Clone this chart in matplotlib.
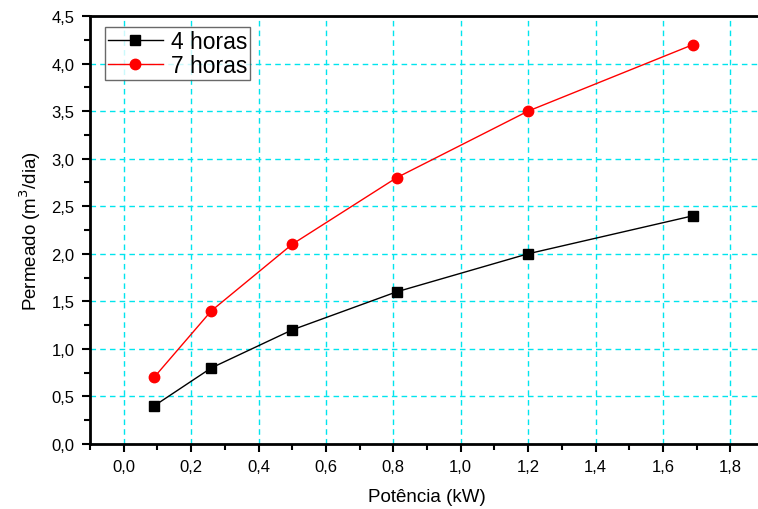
import matplotlib
matplotlib.use("Agg")
import matplotlib.pyplot as plt
from matplotlib.ticker import MultipleLocator, FuncFormatter

# data
potencia = [0.09, 0.26, 0.50, 0.81, 1.20, 1.69]
horas_4 = [0.4, 0.8, 1.2, 1.6, 2.0, 2.4]
horas_7 = [0.7, 1.4, 2.1, 2.8, 3.5, 4.2]

plt.rcParams['font.family'] = ['Liberation Sans', 'DejaVu Sans']

fig = plt.figure(figsize=(7.58, 5.10), dpi=100)
# right edge of the axes falls just outside the picture, as in the original
ax = fig.add_axes([90 / 758, (510 - 445) / 510, (764 - 90) / 758, (445 - 17) / 510])

ax.plot(potencia, horas_4, color='black', lw=1, marker='s', ms=6.5, label='4 horas')
ax.plot(potencia, horas_7, color='red', lw=1, marker='o', ms=7.5, label='7 horas')

ax.set_xlim(-0.1, 1.9)
ax.set_ylim(0, 4.5)
ax.xaxis.set_major_locator(MultipleLocator(0.2))
ax.xaxis.set_minor_locator(MultipleLocator(0.1))
ax.yaxis.set_major_locator(MultipleLocator(0.5))
ax.yaxis.set_minor_locator(MultipleLocator(0.25))

comma = FuncFormatter(lambda v, p: f"{v:.1f}".replace('.', ','))
ax.xaxis.set_major_formatter(comma)
ax.yaxis.set_major_formatter(comma)

ax.grid(True, which='major', color='#00e5ee', ls=(0, (4, 3)), lw=1)
ax.set_axisbelow(True)

for s in ['left', 'bottom', 'top']:
    ax.spines[s].set_linewidth(2)
ax.spines['right'].set_visible(False)
ax.tick_params(which='major', direction='out', length=6, width=1.5, labelsize=12, pad=5)
ax.tick_params(which='minor', direction='out', length=4, width=1.5)

ax.set_xlabel('Potência (kW)', fontsize=13.5, labelpad=10)
ax.set_ylabel('Permeado (m$^3$/dia)', fontsize=13.5, labelpad=6)

leg = ax.legend(loc='upper left', bbox_to_anchor=(0.022, 0.974), borderaxespad=0,
                fontsize=16.5, frameon=True, fancybox=False, handlelength=2.4,
                borderpad=0.12, labelspacing=0.05, handletextpad=0.35)
leg.get_frame().set_edgecolor('#444444')
leg.get_frame().set_linewidth(1)

fig.savefig('out.png', dpi=100)
